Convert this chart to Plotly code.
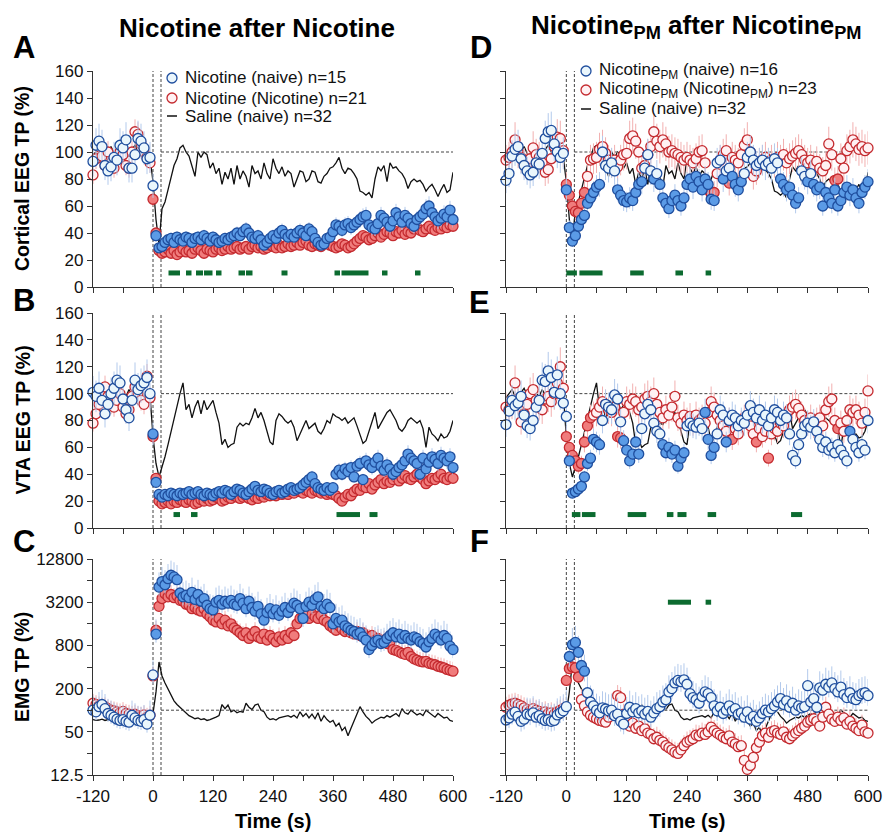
import math
import plotly.graph_objects as go

# ---------------- data ----------------
T = list(range(-120, 601, 6))  # time bins (s)
X_TICKS = [-120, 0, 120, 240, 360, 480, 600]
X_LABELS = ["-120", "0", "120", "240", "360", "480", "600"]
X_MINOR = [-60, 60, 180, 300, 420, 540]
Y_TICKS = [0, 20, 40, 60, 80, 100, 120, 140, 160]
LOG_TICKS = [12.5, 50, 200, 800, 3200, 12800]
LOG_LABELS = ["12.5", "50", "200", "800", "3200", "12800"]
LOG_MINOR = [25, 100, 400, 1600, 6400]

# Saline (naive) n=32 -- shared by both columns
SAL_CTX = [98,100,102,97,95,100,104,99,96,101,103,98,97,102,105,100,98,103,100,96,
           78,50,32,58,63,72,82,90,95,103,
           105,100,97,90,82,100,96,100,98,88,
           92,84,88,76,85,80,88,76,90,80,
           86,82,74,90,84,86,80,92,84,80,
           95,88,84,89,82,86,84,74,80,86,
           85,78,80,86,85,78,77,82,84,88,
           89,92,96,88,84,88,87,84,80,71,
           70,68,70,66,80,89,86,90,78,92,
           88,89,86,84,80,73,78,80,78,79,
           76,71,74,76,72,67,72,76,70,72,85]
SAL_VTA = [97,100,103,98,96,101,104,99,97,102,100,98,103,99,101,104,100,97,102,99,
           68,48,38,45,53,62,72,82,92,100,
           108,88,92,82,90,95,85,95,88,92,
           95,86,78,62,66,60,62,63,75,78,
           76,78,77,82,89,82,86,80,72,64,
           62,80,85,83,80,78,80,75,65,70,
           75,80,74,76,78,72,70,74,80,78,
           85,83,82,80,82,78,80,82,76,70,
           63,65,72,80,86,74,78,82,86,88,
           84,80,74,72,75,80,82,80,78,80,
           74,60,75,70,68,65,70,67,68,72,80]
SAL_EMG = [74,72,73,75,72,74,76,73,72,75,74,73,76,74,72,75,74,73,76,80,
           90,180,470,300,240,200,160,135,120,110,
           100,90,84,80,76,78,74,76,72,74,
           78,80,84,120,105,118,95,100,92,96,
           94,125,110,102,118,122,100,95,80,74,
           76,73,78,80,82,84,80,85,78,95,
           82,90,78,88,76,92,70,84,74,68,
           72,60,66,52,58,44,56,70,90,112,
           95,82,75,66,72,76,80,78,84,80,
           86,90,82,105,92,88,100,94,86,90,
           84,100,92,86,80,90,84,78,80,72,70]

# Left column: Nicotine after Nicotine
A_blue = [93,105,108,104,90,86,89,96,94,105,103,109,88,88,98,110,108,103,95,96,
          75,38,29,30,33,35,36,33,37,35,
          34,37,36,33,36,37,35,38,36,34,
          37,35,33,34,36,35,37,38,40,38,
          41,43,40,37,36,38,35,31,33,36,
          38,36,40,42,39,37,39,37,40,42,
          40,38,43,41,36,33,31,32,36,37,
          41,46,45,42,46,47,44,46,48,50,
          52,53,46,44,43,47,53,51,48,45,
          49,55,52,48,53,51,47,45,50,52,
          54,58,60,55,52,49,51,54,52,57,50]
A_red = [83,95,104,97,90,100,92,88,96,100,98,90,88,100,115,113,106,100,96,92,
         65,40,27,25,26,28,25,27,24,26,
         28,26,27,25,28,29,27,25,28,27,
         26,28,29,27,28,30,28,29,30,28,
         29,30,28,30,31,29,30,28,29,31,
         30,29,31,29,30,32,30,31,33,31,
         33,34,31,30,32,31,30,32,33,31,
         30,29,30,32,31,29,30,32,34,36,
         38,37,35,36,38,40,37,39,41,40,
         38,41,40,42,39,41,40,43,44,42,
         41,43,45,43,42,44,43,45,44,46,45]
B_blue = [101,98,104,95,85,92,100,104,110,108,96,88,82,95,110,103,106,108,112,100,
          70,34,25,23,25,24,26,25,24,26,
          25,26,27,25,26,27,25,24,26,25,
          24,26,27,26,28,27,25,27,29,28,
          26,25,27,29,31,28,27,29,28,26,
          25,27,28,26,27,29,30,28,29,30,
          32,34,36,38,33,30,29,28,30,28,
          30,40,43,40,44,42,45,38,46,48,
          36,50,47,45,49,52,46,43,47,44,
          40,42,45,47,50,55,52,50,48,40,
          52,44,49,53,51,48,54,52,50,53,45]
B_red = [78,85,92,100,105,98,92,90,95,100,90,85,88,98,105,100,95,92,113,97,
         68,37,20,18,19,20,18,20,19,21,
         20,19,21,20,18,19,21,20,22,20,
         21,23,22,20,21,23,22,24,23,22,
         23,24,22,21,23,22,24,23,25,24,
         25,24,26,25,26,25,27,26,28,27,
         26,28,27,26,28,27,26,27,25,26,
         25,24,22,20,23,25,24,27,29,28,
         31,30,33,29,32,34,36,33,35,34,
         36,38,35,37,39,37,36,38,40,38,
         36,33,35,37,36,38,40,37,36,38,37]
C_blue = [100,95,112,120,105,90,85,80,75,72,74,70,68,85,78,72,70,74,64,85,
          310,1150,5200,6200,5600,6800,7600,7200,6600,4300,
          3800,4000,3700,4400,3500,4100,3300,3600,2900,2600,
          2500,3200,3400,3000,3300,3100,3400,3000,2900,3600,
          3100,2600,3300,2700,2400,2800,2200,1800,2300,2600,
          2200,2500,2100,2400,2700,2300,2700,3100,2900,2600,
          1900,2800,3200,2900,3500,3800,2800,2600,3000,2700,
          1600,1900,1700,1800,1500,1400,1300,1250,1150,1200,
          1050,950,700,800,900,950,850,880,1000,1100,
          1200,1050,1150,1000,1100,1000,950,1050,1000,900,
          850,760,900,1000,1150,1050,950,1100,1000,780,700]
C_red = [125,120,115,110,112,105,100,98,95,92,96,90,88,85,88,84,82,86,80,85,
         300,1300,2800,3600,4200,3800,4100,3700,3900,3400,
         3300,3000,2900,2600,2700,2500,2400,2600,2200,2000,
         1800,1700,1900,1600,1800,1500,1600,1400,1300,1200,
         1100,1200,1000,1100,1250,1050,1000,1150,950,1100,
         1000,900,1050,950,1100,1000,1200,1100,1600,1900,
         2000,2100,1900,2200,2000,1900,2100,1800,1700,1500,
         1400,1300,1500,1350,1250,1300,1200,1150,1250,1100,
         1200,1050,1000,1100,950,1000,900,950,850,900,
         700,680,650,620,600,640,560,520,500,480,
         470,480,450,440,430,410,400,390,370,360,350]

# Right column: NicotinePM after NicotinePM
D_blue = [79,84,97,102,104,95,90,86,83,85,92,91,99,110,115,116,106,100,96,99,
          72,44,34,38,45,50,53,62,66,70,
          74,76,100,90,88,92,86,72,68,64,
          63,66,64,70,76,78,88,98,86,80,
          84,76,66,62,58,64,68,64,60,66,
          76,80,74,82,78,72,80,76,65,64,
          92,94,80,86,88,82,76,72,78,84,
          96,100,94,90,92,94,90,92,88,95,
          92,80,76,72,74,68,62,66,86,82,
          78,84,76,72,74,60,70,66,62,72,
          60,64,70,74,68,72,66,62,70,74,78]
D_red = [94,96,100,109,100,96,92,90,95,103,98,96,92,85,87,95,104,111,110,101,
         76,68,60,56,55,62,70,82,94,95,
         96,102,104,99,94,92,94,89,94,98,
         99,110,112,108,100,88,90,98,104,115,
         108,104,109,106,100,101,99,98,96,94,
         96,94,92,95,100,101,92,72,69,70,
         84,94,98,101,77,96,94,92,98,105,
         109,100,82,86,92,94,96,92,94,92,
         96,94,98,92,95,97,99,101,98,94,
         92,94,90,93,88,86,90,106,98,79,
         80,95,88,101,104,109,106,102,104,101,103]
E_blue = [77,87,95,91,93,98,84,76,74,80,90,95,110,109,117,112,101,114,100,93,
          83,50,26,27,29,31,38,48,52,66,
          64,62,80,92,90,88,99,96,79,65,
          58,50,55,64,55,74,85,92,88,78,
          72,70,62,56,60,55,58,46,52,56,
          76,78,76,75,78,74,86,66,54,60,
          70,88,84,64,80,84,82,76,80,78,
          84,91,86,82,88,80,84,76,82,88,
          86,80,84,82,70,54,50,62,70,76,
          78,75,79,72,66,60,64,58,60,56,
          62,58,54,50,72,66,60,56,62,58,80]
E_red = [90,88,92,108,96,79,85,92,100,103,95,91,88,96,98,94,100,108,120,104,
         68,60,54,50,46,48,64,76,82,84,
         86,90,94,92,88,86,90,68,67,86,
         94,92,96,94,88,90,96,98,94,100,
         92,86,82,88,84,90,98,82,78,84,
         80,83,78,84,80,82,78,86,94,90,
         84,80,76,72,80,66,74,70,78,82,
         80,76,70,64,74,68,72,52,70,74,
         72,78,76,82,88,90,92,89,84,80,
         78,82,76,80,82,76,88,94,96,80,
         74,78,72,80,88,86,88,84,78,86,102]
F_blue = [73,78,88,94,82,70,75,88,86,92,80,84,76,72,74,70,72,86,92,98,
          112,560,820,880,640,420,350,175,130,115,
          100,92,108,104,98,100,84,88,70,64,
          90,110,95,105,92,98,88,96,80,92,
          105,112,130,140,180,200,240,260,250,265,
          230,170,150,140,125,155,180,170,150,115,
          98,110,90,100,115,98,105,88,92,80,
          95,75,82,70,78,90,100,95,105,115,
          130,145,120,135,110,125,100,115,108,112,
          220,130,145,110,205,190,230,210,240,200,
          180,210,165,150,175,145,140,160,170,175,160]
F_red = [110,118,122,125,120,115,108,102,98,105,100,96,92,95,90,92,88,95,100,105,
         260,380,400,390,290,140,115,95,85,80,
         76,72,70,68,80,90,85,160,150,88,
         75,60,66,56,60,52,55,48,46,40,
         42,38,36,32,30,28,26,25,28,32,
         36,38,40,45,44,48,46,50,58,52,
         48,45,42,40,44,36,34,31,32,20,
         15,17,22,30,36,44,48,42,50,52,
         48,46,50,42,40,44,48,52,56,60,
         68,72,76,70,60,80,110,88,75,70,
         80,72,78,64,70,60,56,52,62,50,48]

# significant bins (filled markers), [start, end] in s
A_blue_sig = [[6, 600]]
A_red_sig = [[0, 600]]
B_blue_sig = [[0, 600]]
B_red_sig = [[0, 600]]
C_blue_sig = [[6, 600]]
C_red_sig = [[0, 600]]
D_blue_sig = [[0, 66], [102, 150], [174, 174], [186, 294], [312, 312], [330, 348],
              [426, 462], [480, 480], [492, 600]]
D_red_sig = [[0, 36], [282, 294], [324, 324], [534, 540]]
E_blue_sig = [[6, 66], [114, 144], [192, 234], [276, 294], [318, 318], [564, 564]]
E_red_sig = [[0, 48], [102, 108], [330, 330], [378, 378], [402, 402], [540, 540]]
F_blue_sig = [[6, 36]]
F_red_sig = [[0, 24]]

# green bars: between-group differences, [start, end] in s
A_bars = [[31, 54], [66, 77], [86, 100], [102, 119], [126, 137], [171, 184], [186, 199],
          [257, 269], [363, 374], [377, 431], [458, 469], [524, 535]]
B_bars = [[41, 54], [76, 89], [367, 414], [433, 449]]
C_bars = []
D_bars = [[0, 21], [26, 72], [127, 154], [217, 232], [277, 288]]
E_bars = [[11, 28], [31, 58], [122, 159], [200, 213], [221, 239], [281, 298], [447, 469]]
F_bars = [[202, 248], [277, 288]]

for arr in [SAL_CTX, SAL_VTA, SAL_EMG, A_blue, A_red, B_blue, B_red, C_blue, C_red,
            D_blue, D_red, E_blue, E_red, F_blue, F_red]:
    assert len(arr) == len(T), len(arr)

# ---------------- style ----------------
W, H = 896, 834
FONT = "Liberation Sans, Arial, Helvetica, sans-serif"
BLUE_EDGE, BLUE_FILL, BLUE_OPEN, BLUE_ERR = "#1F4E9E", "#5B9BE6", "#EAF6FC", "#B3CAEC"
RED_EDGE, RED_FILL, RED_OPEN, RED_ERR = "#C42A2F", "#F07C7C", "#FFF1F3", "#F2B0B0"
GREEN = "#0C6B30"
AXC = "#333333"

COL_X = [(93, 453), (506, 868)]
ROW_Y = [(71, 287), (313, 528), (559, 775)]


def px2x(px):
    return px / W


def px2y(py):
    return 1 - py / H


def in_any(t, ivs):
    return any(a <= t <= b for a, b in ivs)


panels = [
    # letter, idx, col, row, blue, red, saline, blue_sig, red_sig, bars, bar level, log, err blue, err red
    ("A", 1, 0, 0, A_blue, A_red, SAL_CTX, A_blue_sig, A_red_sig, A_bars, 10.4, False, 12, 8),
    ("B", 2, 0, 1, B_blue, B_red, SAL_VTA, B_blue_sig, B_red_sig, B_bars, 10, False, 12, 8),
    ("C", 3, 0, 2, C_blue, C_red, SAL_EMG, C_blue_sig, C_red_sig, C_bars, 3200, True, 60, 35),
    ("D", 4, 1, 0, D_blue, D_red, SAL_CTX, D_blue_sig, D_red_sig, D_bars, 10.4, False, 12, 12),
    ("E", 5, 1, 1, E_blue, E_red, SAL_VTA, E_blue_sig, E_red_sig, E_bars, 10, False, 12, 12),
    ("F", 6, 1, 2, F_blue, F_red, SAL_EMG, F_blue_sig, F_red_sig, F_bars, 3200, True, 70, 40),
]

fig = go.Figure()
shapes = []
annotations = []
layout = {}

for (letter, i, col, row, blue, red, sal, bsig, rsig, bars, blev, is_log, eb, er) in panels:
    xa = "x" if i == 1 else f"x{i}"
    ya = "y" if i == 1 else f"y{i}"
    xkey = "xaxis" if i == 1 else f"xaxis{i}"
    ykey = "yaxis" if i == 1 else f"yaxis{i}"
    x0, x1 = COL_X[col]
    yt, yb = ROW_Y[row]

    layout[xkey] = dict(
        domain=[px2x(x0), px2x(x1)], anchor=ya, range=[-120, 600], automargin=False,
        tickmode="array", tickvals=X_TICKS, ticktext=X_LABELS,
        minor=dict(tickmode="array", tickvals=X_MINOR, ticks="outside", ticklen=5,
                   tickcolor=AXC, showgrid=False),
        showticklabels=(row == 2), ticks="outside", ticklen=5, tickwidth=1.2,
        tickcolor=AXC, showline=True, linecolor=AXC, linewidth=1.3,
        showgrid=False, zeroline=False,
        tickfont=dict(family=FONT, size=17, color="#111"),
    )
    ycfg = dict(
        domain=[px2y(yb), px2y(yt)], anchor=xa, automargin=False,
        showticklabels=(col == 0), ticks="outside", ticklen=5, tickwidth=1.2,
        tickcolor=AXC, showline=True, linecolor=AXC, linewidth=1.3,
        showgrid=False, zeroline=False,
        tickfont=dict(family=FONT, size=17, color="#111"),
    )
    if is_log:
        ycfg.update(type="log", range=[math.log10(12.5), math.log10(12800)],
                    tickmode="array", tickvals=LOG_TICKS, ticktext=LOG_LABELS,
                    minor=dict(tickmode="array", tickvals=LOG_MINOR, ticks="outside",
                               ticklen=5, tickcolor=AXC, showgrid=False))
    else:
        ycfg.update(range=[0, 160], tickmode="array", tickvals=Y_TICKS)
    layout[ykey] = ycfg

    # vertical dashed lines (injection window)
    for xv in (0, 16):
        shapes.append(dict(type="line", xref=xa, yref=f"{ya} domain", x0=xv, x1=xv,
                           y0=0, y1=1, line=dict(color="#444", width=1, dash="3px,2px"),
                           layer="below"))

    # saline line
    fig.add_trace(go.Scatter(x=T, y=sal, mode="lines", xaxis=xa, yaxis=ya,
                             line=dict(color="#111", width=1.3), showlegend=False,
                             hoverinfo="skip"))
    # 100 % reference
    fig.add_trace(go.Scatter(x=[16, 600], y=[100, 100], mode="lines", xaxis=xa, yaxis=ya,
                             line=dict(color="#444", width=1, dash="3px,2px"),
                             showlegend=False, hoverinfo="skip"))
    # significance bars
    if bars:
        bx, by = [], []
        for a, b in bars:
            bx += [a, b, None]
            by += [blev, blev, None]
        fig.add_trace(go.Scatter(x=bx, y=by, mode="lines", xaxis=xa, yaxis=ya,
                                 line=dict(color=GREEN, width=5), showlegend=False,
                                 hoverinfo="skip"))

    def err(v, is_log=is_log):
        if is_log:
            return dict(type="percent", value=v, valueminus=v * 0.4, symmetric=False,
                        thickness=1, width=0)
        return dict(type="percent", value=v, symmetric=True, thickness=1, width=0)

    # red (drawn first)
    e = err(er)
    e["color"] = RED_ERR
    fig.add_trace(go.Scatter(
        x=T, y=red, mode="markers", xaxis=xa, yaxis=ya, cliponaxis=False,
        marker=dict(size=10, color=[RED_FILL if in_any(t, rsig) else RED_OPEN for t in T],
                    line=dict(color=RED_EDGE, width=1.3)),
        error_y=e, showlegend=False, hoverinfo="skip"))
    e = err(eb)
    e["color"] = BLUE_ERR
    fig.add_trace(go.Scatter(
        x=T, y=blue, mode="markers", xaxis=xa, yaxis=ya, cliponaxis=False,
        marker=dict(size=10, color=[BLUE_FILL if in_any(t, bsig) else BLUE_OPEN for t in T],
                    line=dict(color=BLUE_EDGE, width=1.3)),
        error_y=e, showlegend=False, hoverinfo="skip"))

# ---------------- text ----------------
letters = [("A", 24, 48), ("B", 24, 300), ("C", 24, 541),
           ("D", 481, 48), ("E", 479, 302), ("F", 479, 541)]
for L, lx, ly in letters:
    annotations.append(dict(text=f"<b>{L}</b>", x=px2x(lx), y=px2y(ly), xref="paper",
                            yref="paper", showarrow=False, xanchor="center", yanchor="middle",
                            font=dict(family=FONT, size=31, color="#000")))

annotations.append(dict(text="<b>Nicotine after Nicotine</b>", x=px2x(257), y=px2y(28),
                        xref="paper", yref="paper", showarrow=False,
                        xanchor="center", yanchor="middle",
                        font=dict(family=FONT, size=26, color="#000")))
annotations.append(dict(text="<b>Nicotine<sub>PM</sub> after Nicotine<sub>PM</sub></b>",
                        x=px2x(696), y=px2y(26), xref="paper", yref="paper",
                        showarrow=False, xanchor="center", yanchor="middle",
                        font=dict(family=FONT, size=26, color="#000")))

for title, (yt, yb) in zip(["Cortical EEG TP (%)", "VTA EEG TP (%)", "EMG TP (%)"], ROW_Y):
    annotations.append(dict(text=f"<b>{title}</b>", x=px2x(22), y=px2y((yt + yb) / 2),
                            xref="paper", yref="paper", showarrow=False, textangle=-90,
                            xanchor="center", yanchor="middle",
                            font=dict(family=FONT, size=19.5, color="#000")))
for (x0, x1) in COL_X:
    annotations.append(dict(text="<b>Time (s)</b>", x=px2x((x0 + x1) / 2), y=px2y(821),
                            xref="paper", yref="paper", showarrow=False,
                            xanchor="center", yanchor="middle",
                            font=dict(family=FONT, size=20, color="#000")))

# legends
legend_sets = [
    (172, 183, [78, 98, 116], ["Nicotine (naive) n=15", "Nicotine (Nicotine) n=21",
                                "Saline (naive) n=32"]),
    (586, 597, [71, 90, 109], ["Nicotine<sub>PM</sub> (naive) n=16",
                                "Nicotine<sub>PM</sub> (Nicotine<sub>PM</sub>) n=23",
                                "Saline (naive) n=32"]),
]
for cx, tx, rows, labels in legend_sets:
    for k, (ry, lab) in enumerate(zip(rows, labels)):
        if k < 2:
            fill, edge = (BLUE_OPEN, BLUE_EDGE) if k == 0 else (RED_OPEN, RED_EDGE)
            shapes.append(dict(type="circle", xref="paper", yref="paper",
                               xsizemode="pixel", ysizemode="pixel",
                               xanchor=px2x(cx), yanchor=px2y(ry),
                               x0=-5, x1=5, y0=-5, y1=5, fillcolor=fill,
                               line=dict(color=edge, width=1.3), layer="above"))
        else:
            shapes.append(dict(type="line", xref="paper", yref="paper",
                               x0=px2x(cx - 5), x1=px2x(cx + 5), y0=px2y(ry), y1=px2y(ry),
                               line=dict(color="#111", width=1.5), layer="above"))
        annotations.append(dict(text=lab, x=px2x(tx), y=px2y(ry), xref="paper",
                                yref="paper", showarrow=False, xanchor="left",
                                yanchor="middle",
                                font=dict(family=FONT, size=17, color="#111")))

fig.update_layout(
    template="none",
    width=W, height=H, margin=dict(l=0, r=0, t=0, b=0, pad=0, autoexpand=False),
    paper_bgcolor="white", plot_bgcolor="white",
    showlegend=False, shapes=shapes, annotations=annotations,
    font=dict(family=FONT), **layout,
)

fig.write_html("out.html")
